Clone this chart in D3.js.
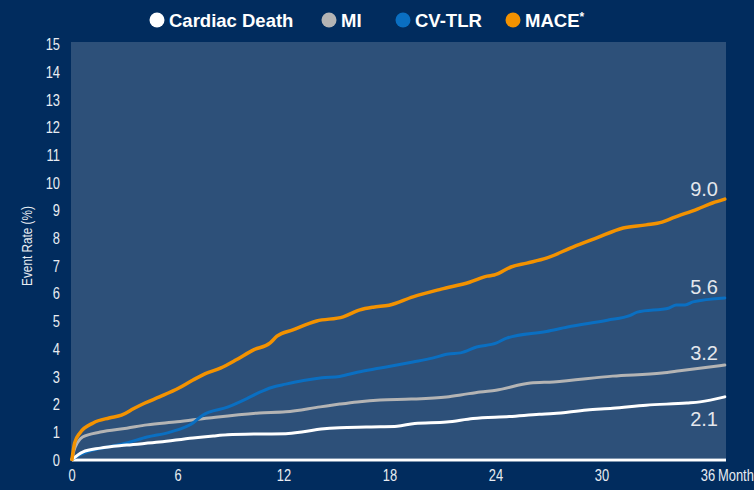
<!DOCTYPE html>
<html>
<head>
<meta charset="utf-8">
<script src="https://cdn.jsdelivr.net/npm/d3@7"></script>
<style>
  body { margin: 0; background: #012c5e; }
  svg { display: block; }
</style>
</head>
<body>
<div id="chart"></div>
<script>
// months / cumulative event rate (%)
const xTicks = [0, 6, 12, 18, 24, 30, 36];
const yTicks = d3.range(0, 16);

const seriesNames = ["Cardiac Death", "MI", "CV-TLR", "MACE"];
const endLabels = ["2.1", "3.2", "5.6", "9.0"];

const cardiacDeath = [[0,0],[0.6,0.27],[1.6,0.41],[3.1,0.52],[4.95,0.63],[6.85,0.78],[8.0,0.85],[8.8,0.89],[10.6,0.92],[12.1,0.93],[13.1,1.0],[14.1,1.1],[15.15,1.15],[16.65,1.17],[17.45,1.18],[18.4,1.2],[19.4,1.3],[21.2,1.35],[22.7,1.48],[24.75,1.55],[26.45,1.63],[27.25,1.66],[29.15,1.79],[30.6,1.85],[32.5,1.96],[34.8,2.04],[35.55,2.08],[36.95,2.26]];
const mi = [[0,0],[0.1,0.3],[0.3,0.6],[0.6,0.81],[1.6,0.99],[3.1,1.13],[4.25,1.25],[5.95,1.36],[7.75,1.5],[10.6,1.68],[12.1,1.72],[14.05,1.9],[15.15,2.0],[16.15,2.08],[17.45,2.15],[19.2,2.18],[21.2,2.26],[22.0,2.33],[23.1,2.44],[24.0,2.5],[25.95,2.76],[27.25,2.8],[30.6,3.01],[33.4,3.12],[34.4,3.2],[36.95,3.41]];
const cvTlr = [[0,0],[0.3,0.12],[1.2,0.34],[2.0,0.45],[3.1,0.6],[4.25,0.81],[5.55,0.99],[6.85,1.32],[7.4,1.6],[8.8,1.89],[9.9,2.2],[10.6,2.42],[11.3,2.6],[12.1,2.72],[13.1,2.85],[14.15,2.95],[15.15,3.0],[16.15,3.15],[17.45,3.3],[19.3,3.52],[20.4,3.66],[21.3,3.81],[22.0,3.85],[22.9,4.06],[24.0,4.2],[24.6,4.38],[26.85,4.62],[28.05,4.78],[30.3,5.03],[31.6,5.2],[32.0,5.32],[33.8,5.47],[34.2,5.58],[34.7,5.58],[35.15,5.69],[36.95,5.83]];
const mace = [[0,0],[0.15,0.6],[0.45,0.96],[1.2,1.32],[2.1,1.5],[2.8,1.6],[3.5,1.84],[4.1,2.03],[4.95,2.26],[6.05,2.58],[6.85,2.87],[7.55,3.1],[8.4,3.3],[9.3,3.6],[10.25,3.95],[11.2,4.2],[11.6,4.45],[12.5,4.68],[13.85,5.0],[15.35,5.15],[16.3,5.4],[17.05,5.5],[17.95,5.57],[19.3,5.87],[20.9,6.15],[22.5,6.4],[23.5,6.62],[23.9,6.66],[24.85,6.95],[25.75,7.09],[26.85,7.27],[28.35,7.67],[29.7,8.0],[31.2,8.36],[32.5,8.47],[33.4,8.57],[34.0,8.72],[35.4,9.04],[36.25,9.26],[36.95,9.4]];

const width = 754;
const height = 490;
const colors = ["#ffffff", "#b4b4b4", "#0a6fc2", "#f39200"];
const series = [cardiacDeath, mi, cvTlr, mace];
const narrowFont = "'Liberation Sans', Arial, sans-serif";
const squeeze = 0.76;

const x = d3.scaleLinear().domain([0, 36]).range([72, 708]);
const y = d3.scaleLinear().domain([0, 15]).range([459.5, 44]);

const svg = d3.select("#chart").append("svg")
  .attr("width", width)
  .attr("height", height);

svg.append("rect")
  .attr("width", width).attr("height", height)
  .attr("fill", "#012c5e");

// plot panel
svg.append("rect")
  .attr("x", 71).attr("y", 42)
  .attr("width", 726 - 71).attr("height", 458 - 42)
  .attr("fill", "#2d5079");

// y axis labels (narrow look by horizontal squeeze)
svg.append("g")
  .selectAll("text")
  .data(yTicks)
  .join("text")
  .attr("transform", (d) => `translate(60,${y(d)}) scale(${squeeze},1)`)
  .attr("dy", "0.36em")
  .attr("text-anchor", "end")
  .attr("fill", "#e8ecf2")
  .style("font-family", narrowFont)
  .style("font-size", "17px")
  .text((d) => d);

svg.append("text")
  .attr("transform", `translate(32,246) rotate(-90) scale(${squeeze},1)`)
  .attr("text-anchor", "middle")
  .attr("fill", "#e8ecf2")
  .style("font-family", narrowFont)
  .style("font-size", "15.5px")
  .text("Event Rate (%)");

// x axis labels
svg.append("g")
  .selectAll("text")
  .data(xTicks)
  .join("text")
  .attr("transform", (d) => `translate(${x(d)},481) scale(${squeeze},1)`)
  .attr("text-anchor", "middle")
  .attr("fill", "#e8ecf2")
  .style("font-family", narrowFont)
  .style("font-size", "17px")
  .text((d) => d);

svg.append("text")
  .attr("transform", `translate(${x(36) + 10},481) scale(${squeeze},1)`)
  .attr("fill", "#e8ecf2")
  .style("font-family", narrowFont)
  .style("font-size", "17px")
  .text("Month");

// baseline
svg.append("line")
  .attr("x1", 72).attr("x2", 726)
  .attr("y1", 460).attr("y2", 460)
  .attr("stroke", "#ffffff")
  .attr("stroke-width", 3);

const line = d3.line()
  .x((d) => x(d[0]))
  .y((d) => y(d[1]))
  .curve(d3.curveMonotoneX);

const drawOrder = [1, 2, 0, 3];
svg.append("g")
  .selectAll("path")
  .data(drawOrder)
  .join("path")
  .attr("d", (i) => line(series[i]))
  .attr("fill", "none")
  .attr("stroke", (i) => colors[i])
  .attr("stroke-width", (i) => (i === 3 ? 3.5 : 3))
  .attr("stroke-linejoin", "round")
  .attr("stroke-linecap", "round");

// end values
const labelY = [419, 353, 287, 189];
svg.append("g")
  .selectAll("text")
  .data(endLabels)
  .join("text")
  .attr("x", 718)
  .attr("y", (d, i) => labelY[i])
  .attr("dy", "0.36em")
  .attr("text-anchor", "end")
  .attr("fill", "#e4e7ec")
  .style("font-family", "'Liberation Sans', Arial, sans-serif")
  .style("font-size", "20px")
  .text((d) => d);

// legend
const legendX = [157, 329, 403, 513];
const legend = svg.append("g")
  .selectAll("g")
  .data(seriesNames)
  .join("g")
  .attr("transform", (d, i) => `translate(${legendX[i]},20)`);

legend.append("circle")
  .attr("r", 7.5)
  .attr("fill", (d, i) => colors[i]);

const legendText = legend.append("text")
  .attr("x", 12)
  .attr("dy", "0.36em")
  .attr("fill", "#ffffff")
  .style("font-family", "'Liberation Sans', Arial, sans-serif")
  .style("font-weight", "bold")
  .style("font-size", "18.5px")
  .text((d) => d);

legendText.filter((d) => d === "MACE")
  .append("tspan")
  .attr("dy", "-0.45em")
  .style("font-size", "12px")
  .text("*");
</script>
</body>
</html>
